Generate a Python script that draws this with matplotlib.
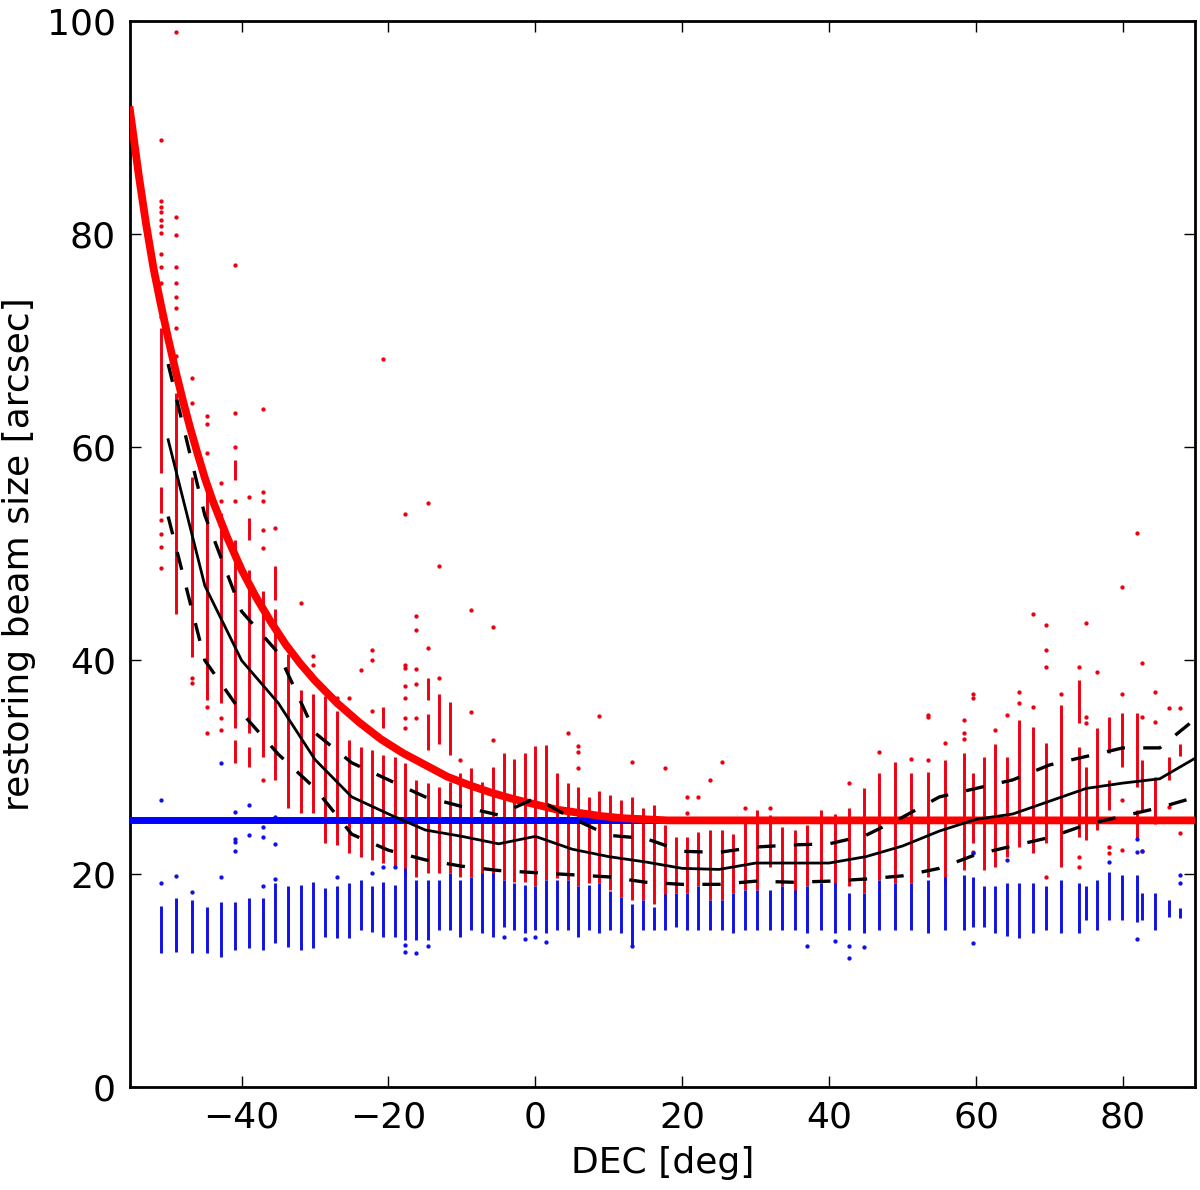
import matplotlib
matplotlib.use('Agg')
import matplotlib.pyplot as plt
import numpy as np

# ── Data ────────────────────────────────────────────────────────────────────

# declination of each pointing column
col_dec = [-51.0, -48.9, -46.8, -44.7, -42.8, -40.9, -39.0, -37.1, -35.4, -33.7,
           -31.9, -30.3, -28.6, -27.0, -25.4, -23.8, -22.2, -20.75, -19.1, -17.7,
           -16.2, -14.6, -13.1, -11.6, -10.2, -8.7, -7.3, -5.8, -4.3, -2.9,
           -1.45, 0.0, 1.45, 2.9, 4.4, 5.85, 7.3, 8.7, 10.2, 11.6,
           13.1, 14.6, 16.1, 17.7, 19.2, 20.6, 22.2, 23.8, 25.35, 26.9,
           28.6, 30.2, 31.9, 33.6, 35.3, 37.0, 38.9, 40.8, 42.7, 44.7,
           46.8, 48.9, 51.1, 53.4, 55.8, 58.3, 59.6, 61.1, 62.6, 64.2,
           65.8, 67.7, 69.5, 71.6, 74.0, 75.0, 76.5, 78.1, 79.9, 81.9,
           82.6, 84.4, 86.3, 87.8]

# dense range of the red (major axis) points per column
red_hi = [71.2, 65.1, 57.2, 57.2, 53.8, 51.3, 48.5, 46.5, 44.8, 40.6,
          37.2, 36.9, 36.7, 35.3, 32.5, 31.9, 31.6, 31.1, 30.9, 30.4,
          28.8, 28.5, 28.1, 28.6, 29.4, 29.9, 28.6, 30.0, 31.3, 30.8,
          31.3, 32.0, 32.1, 29.4, 28.5, 28.1, 27.2, 27.8, 27.4, 26.9,
          27.2, 26.2, 26.4, 24.6, 23.4, 23.4, 23.9, 24.1, 24.1, 23.7,
          25.3, 26.0, 25.5, 24.4, 24.1, 24.6, 26.0, 25.6, 26.2, 28.0,
          29.4, 30.5, 29.4, 29.5, 30.7, 31.3, 29.4, 30.9, 32.2, 30.9,
          34.4, 33.8, 32.3, 35.8, 31.9, 30.0, 33.7, 34.7, 35.1, 35.1,
          30.7, 29.1, 30.9, 32.2]
red_lo = [57.6, 44.4, 40.3, 36.3, 36.0, 33.7, 33.2, 30.9, 28.8, 26.2,
          25.7, 25.7, 22.9, 22.7, 21.9, 21.6, 21.3, 21.0, 20.6, 19.7,
          19.7, 20.1, 20.1, 20.1, 19.7, 19.7, 19.7, 19.7, 19.4, 19.2,
          19.2, 18.8, 19.4, 19.6, 19.4, 18.8, 19.1, 19.1, 18.5, 17.8,
          17.5, 17.5, 17.2, 17.5, 18.2, 18.2, 18.8, 17.5, 17.5, 18.2,
          18.5, 18.5, 20.6, 18.8, 18.2, 18.8, 19.1, 18.8, 18.8, 18.2,
          19.4, 19.1, 19.1, 19.7, 18.8, 20.3, 22.9, 20.3, 20.6, 21.6,
          22.5, 21.9, 22.9, 20.6, 23.4, 23.2, 24.1, 31.3, 30.0, 28.1,
          26.0, 24.7, 28.8, 31.0]

# dense range of the blue (minor axis) points per column
blue_hi = [17.0, 17.7, 17.5, 16.9, 17.3, 17.3, 17.7, 17.7, 19.1, 18.8,
           18.9, 19.2, 18.7, 18.8, 19.1, 19.4, 18.8, 19.2, 18.9, 20.5,
           19.4, 19.4, 19.4, 20.1, 19.4, 19.7, 20.1, 20.1, 19.4, 19.1,
           18.9, 18.8, 19.4, 19.4, 19.4, 18.8, 18.9, 19.1, 18.4, 17.8,
           17.2, 17.5, 16.9, 18.1, 18.2, 18.2, 18.8, 17.5, 17.5, 18.2,
           18.5, 18.5, 18.5, 18.8, 18.5, 18.8, 19.1, 19.1, 18.2, 18.2,
           19.4, 19.1, 19.1, 19.4, 19.7, 19.9, 19.7, 18.8, 18.8, 19.1,
           19.1, 19.1, 18.8, 19.4, 19.1, 18.8, 19.4, 20.2, 19.9, 19.9,
           18.2, 18.2, 17.5, 16.8]
blue_lo = [12.6, 12.7, 12.6, 12.6, 12.2, 12.8, 13.0, 12.8, 13.5, 13.1,
           12.8, 13.0, 14.1, 14.0, 14.0, 14.7, 14.5, 14.1, 14.1, 13.8,
           13.8, 13.8, 14.7, 14.7, 14.1, 14.7, 14.4, 14.1, 15.0, 14.7,
           14.4, 14.7, 14.4, 14.7, 14.7, 14.1, 14.7, 14.4, 14.7, 14.4,
           13.1, 14.7, 14.7, 14.7, 15.0, 14.7, 14.7, 14.7, 14.7, 14.4,
           14.7, 14.7, 14.7, 14.7, 14.7, 14.4, 14.7, 14.4, 14.7, 14.4,
           14.7, 14.7, 14.7, 14.4, 14.7, 14.7, 15.0, 15.0, 14.4, 14.2,
           14.0, 14.4, 14.7, 14.4, 14.4, 15.7, 14.7, 15.7, 15.7, 15.5,
           15.7, 14.7, 15.9, 15.8]

# sparser red stretches detached from the dense range
seg_dec = [-51.0, -40.9, -40.9, -39.0, -39.0, -35.4, -20.75, -14.6, -14.6,
           -13.1, -11.6, 74.0, 78.1, 81.9]
seg_lo = [53.8, 56.9, 30.4, 51.3, 30.0, 45.7, 33.7, 36.3, 31.6,
          32.2, 31.1, 34.1, 26.0, 23.2]
seg_hi = [56.3, 58.8, 32.5, 53.4, 31.9, 48.9, 35.6, 38.4, 35.0,
          36.9, 36.1, 38.2, 28.8, 26.0]

# isolated red points
red_pt_dec = ([-51.0] * 15 + [-48.9] * 9 + [-46.8] * 4 + [-44.7] * 5 + [-42.8] * 4
              + [-40.9] * 4 + [-39.0] + [-37.1] * 6 + [-35.4] + [-31.9] + [-30.3] * 2
              + [-27.0, -25.4, -23.8] + [-22.2] * 3 + [-20.75] + [-17.7] * 7
              + [-16.2] * 5 + [-14.6] * 2 + [-13.1] * 2 + [-10.2] + [-8.7] * 2
              + [-5.8] * 2 + [4.4] + [5.85] * 3 + [8.7, 13.1, 17.7] + [20.6] * 2
              + [22.2, 23.8, 25.35, 28.6, 31.9, 42.7, 46.8, 51.1] + [53.4] * 3
              + [55.8] + [58.3] * 3 + [59.6] * 3 + [62.6, 64.2] + [65.8] * 2
              + [67.7] * 2 + [69.5] * 4 + [71.6] + [74.0] * 3 + [75.0] * 3
              + [76.5] + [78.1] * 2 + [79.9] * 4 + [81.9] + [82.6] * 3
              + [84.4] * 2 + [86.3] * 2 + [87.8] * 2)
red_pt_val = [88.8, 83.1, 82.5, 82.1, 81.3, 80.7, 80.1, 78.1, 76.9, 75.4, 72.2,
              53.2, 51.9, 50.6, 48.7,
              98.9, 81.6, 79.9, 76.9, 75.4, 74.1, 73.1, 71.2, 68.6,
              66.5, 64.1, 38.4, 37.9,
              62.9, 62.2, 59.5, 35.6, 33.2,
              56.6, 55.0, 34.6, 33.5,
              77.1, 63.2, 60.0, 55.0,
              55.3,
              63.6, 55.8, 55.0, 52.2, 50.5, 28.8,
              52.4, 45.4, 40.4, 39.6,
              36.5, 36.5, 39.1,
              41.0, 40.0, 35.3,
              68.3,
              53.7, 39.6, 39.3, 37.6, 36.5, 34.6, 33.7,
              44.2, 42.9, 39.2, 37.8, 34.6,
              54.8, 41.2,
              48.9, 38.4,
              30.7,
              44.7, 35.2,
              43.1, 32.5,
              33.2,
              32.0, 31.4, 29.9,
              34.8, 30.5, 29.9,
              27.2, 25.7,
              27.2, 28.8, 30.5, 26.2, 26.2, 28.5, 31.4, 30.8,
              34.9, 34.7, 30.7,
              32.3,
              34.4, 33.2, 32.6,
              36.9, 36.5, 22.0,
              33.5, 34.9,
              37.0, 36.0,
              44.4, 35.6,
              43.3, 41.0, 39.4, 19.7,
              36.9,
              39.4, 21.6, 20.6,
              43.5, 34.7, 34.1,
              38.9,
              22.5, 21.9,
              46.9, 36.9, 26.9, 22.2,
              52.0,
              39.8, 34.7, 22.1,
              37.0, 34.2,
              35.5, 26.3,
              35.5, 23.8]

# isolated blue points
blue_pt_dec = [-51.0, -51.0, -48.9, -46.8, -42.8, -42.8, -40.9, -40.9, -40.9, -40.9,
               -39.0, -39.0, -37.1, -37.1, -37.1, -35.4, -35.4, -35.4, -27.0, -22.2,
               -20.75, -19.1, -17.7, -17.7, -16.2, -14.6, -4.3, -1.45, 0.0, 1.45,
               13.1, 37.0, 40.8, 42.7, 42.7, 44.7, 59.6, 59.6, 64.2, 78.1,
               81.9, 81.9, 81.9, 82.6, 87.8, 87.8]
blue_pt_val = [26.9, 19.1, 19.8, 18.3, 30.4, 19.7, 25.8, 23.3, 23.0, 22.1,
               26.4, 23.6, 24.4, 23.4, 18.8, 25.3, 22.8, 19.5, 19.7, 20.1,
               20.6, 20.6, 13.3, 12.7, 12.6, 13.2, 14.1, 13.9, 14.1, 13.6,
               13.2, 13.2, 13.7, 13.2, 12.1, 13.1, 21.9, 13.5, 21.3, 21.1,
               23.3, 22.0, 13.9, 22.1, 19.9, 19.1]

# thick red limit curve
curve_dec = [-55.2, -54.0, -53.0, -52.0, -51.0, -50.0, -49.0, -48.0, -47.0, -46.0,
             -45.0, -44.0, -42.0, -40.0, -38.0, -36.0, -34.0, -32.0, -30.0, -27.0,
             -24.0, -21.0, -18.0, -15.0, -12.0, -9.0, -6.0, -3.0, 0.0, 3.0,
             6.0, 9.0, 12.0, 15.0, 18.0, 89.8]
curve_val = [91.6, 85.5, 80.9, 76.8, 73.4, 70.2, 67.2, 64.4, 61.8, 59.4,
             57.1, 55.1, 51.6, 48.5, 45.9, 43.6, 41.5, 39.7, 38.1, 36.0,
             34.2, 32.6, 31.3, 30.2, 29.1, 28.3, 27.6, 27.0, 26.5, 26.0,
             25.7, 25.4, 25.2, 25.1, 25.0, 25.0]

# binned statistics of the red points (median and spread)
bin_dec = [-50, -45, -40, -35, -30, -25, -20, -15, -10, -5, 0, 5, 10, 15, 20,
           25, 30, 35, 40, 45, 50, 55, 60, 65, 70, 75, 80, 85, 90]
med = [60.7, 47.0, 40.0, 36.0, 30.7, 27.2, 25.6, 24.1, 23.5, 22.8, 23.5, 22.3,
       21.6, 21.1, 20.5, 20.4, 21.0, 21.0, 21.0, 21.6, 22.6, 24.0, 25.1, 25.6,
       26.8, 28.0, 28.5, 28.9, 30.9]
upper = [67.8, 53.6, 44.6, 40.7, 33.2, 30.4, 28.8, 27.2, 26.3, 25.5, 27.1, 25.2,
         23.6, 23.3, 22.1, 22.0, 22.5, 22.7, 22.8, 23.6, 25.3, 27.2, 28.0, 28.8,
         30.2, 31.0, 31.8, 31.8, 34.6]
lower = [53.5, 40.0, 35.1, 31.2, 28.0, 23.7, 22.2, 21.3, 20.7, 20.3, 20.1, 19.9,
         19.7, 19.2, 19.0, 19.0, 19.3, 19.2, 19.3, 19.5, 19.8, 20.5, 21.8, 22.6,
         23.4, 24.6, 25.4, 26.2, 27.2]

x_lim = (-55.2, 89.8)
beam_lim = 25.0

# ── Figure ──────────────────────────────────────────────────────────────────

plt.rcParams['font.family'] = 'DejaVu Sans'
plt.rcParams['font.size'] = 13

fig = plt.figure(figsize=(6, 5.95), dpi=200)
ax = fig.add_axes([0.1083, 0.0866, 0.8875, 0.896])

red_dot = '#ee0010'
blue_dot = '#1010e8'

ax.vlines(col_dec, red_lo, red_hi, color=red_dot, lw=1.05, zorder=2)
ax.vlines(seg_dec, seg_lo, seg_hi, color=red_dot, lw=1.05, zorder=2)
ax.scatter(red_pt_dec, red_pt_val, s=2.4, color=red_dot, lw=0, zorder=2)
ax.vlines(col_dec, blue_lo, blue_hi, color=blue_dot, lw=1.05, zorder=3)
ax.scatter(blue_pt_dec, blue_pt_val, s=2.4, color=blue_dot, lw=0, zorder=3)

ax.plot(x_lim, [beam_lim, beam_lim], color='blue', lw=2.5, zorder=4)
ax.plot(curve_dec, curve_val, color='red', lw=2.8, zorder=5)

ax.plot(bin_dec, med, color='k', lw=1.0, zorder=6)
ax.plot(bin_dec, upper, color='k', lw=1.2, ls='--', dashes=(5.5, 5.5), zorder=6)
ax.plot(bin_dec, lower, color='k', lw=1.2, ls='--', dashes=(5.5, 5.5), zorder=6)

ax.set_xlim(*x_lim)
ax.set_ylim(0, 100)
ax.set_xticks([-40, -20, 0, 20, 40, 60, 80])
ax.set_yticks([0, 20, 40, 60, 80, 100])
ax.set_xlabel('DEC [deg]')
ax.set_ylabel('restoring beam size [arcsec]')
ax.tick_params(direction='in', top=True, right=True, length=4, width=0.5, pad=5)
for sp in ax.spines.values():
    sp.set_linewidth(1.0)

fig.savefig('out.png', dpi=200)
